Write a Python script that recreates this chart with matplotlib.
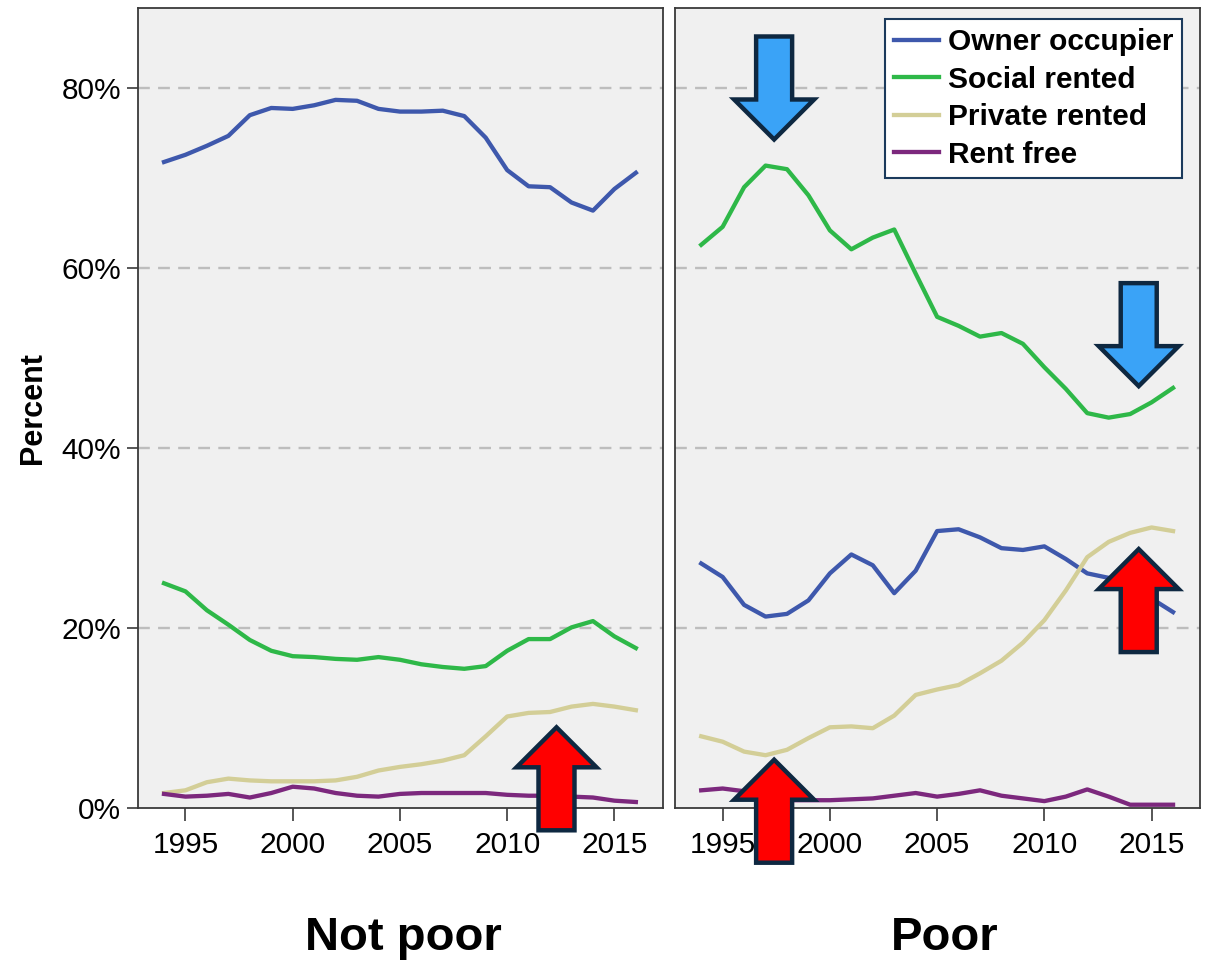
import numpy as np
import matplotlib
matplotlib.use("Agg")
import matplotlib.pyplot as plt
from matplotlib.patches import Polygon
from matplotlib.transforms import IdentityTransform

plt.rcParams['font.family'] = ['Liberation Sans', 'DejaVu Sans']

years = list(range(1994, 2017))
tenures = ['Owner occupier', 'Social rented', 'Private rented', 'Rent free']
colors = ['#3E58AC', '#2EB848', '#D3CE97', '#7C287D']
panels = ['Not poor', 'Poor']

# not poor
np_owner = [71.8, 72.6, 73.6, 74.7, 77.0, 77.8, 77.7, 78.1, 78.7, 78.6, 77.7, 77.4,
            77.4, 77.5, 76.9, 74.5, 70.9, 69.1, 69.0, 67.3, 66.4, 68.8, 70.6]
np_social = [25.0, 24.1, 22.0, 20.4, 18.7, 17.5, 16.9, 16.8, 16.6, 16.5, 16.8, 16.5,
             16.0, 15.7, 15.5, 15.8, 17.5, 18.8, 18.8, 20.1, 20.8, 19.1, 17.8]
np_private = [1.7, 2.0, 2.9, 3.3, 3.1, 3.0, 3.0, 3.0, 3.1, 3.5, 4.2, 4.6,
              4.9, 5.3, 5.9, 8.0, 10.2, 10.6, 10.7, 11.3, 11.6, 11.3, 10.9]
np_free = [1.6, 1.3, 1.4, 1.6, 1.2, 1.7, 2.4, 2.2, 1.7, 1.4, 1.3, 1.6,
           1.7, 1.7, 1.7, 1.7, 1.5, 1.4, 1.4, 1.3, 1.2, 0.85, 0.7]

# poor
p_owner = [27.2, 25.7, 22.6, 21.3, 21.6, 23.1, 26.1, 28.2, 27.0, 23.9, 26.4, 30.8,
           31.0, 30.1, 28.9, 28.7, 29.1, 27.7, 26.1, 25.6, 24.8, 23.3, 21.8]
p_social = [62.6, 64.6, 69.0, 71.4, 71.0, 68.1, 64.2, 62.1, 63.4, 64.3, 59.4, 54.6,
            53.6, 52.4, 52.8, 51.6, 49.0, 46.6, 43.9, 43.4, 43.8, 45.1, 46.7]
p_private = [8.0, 7.4, 6.3, 5.9, 6.5, 7.8, 9.0, 9.1, 8.9, 10.3, 12.6, 13.2,
             13.7, 15.0, 16.4, 18.4, 20.9, 24.2, 27.9, 29.6, 30.6, 31.2, 30.8]
p_free = [2.0, 2.2, 1.9, 1.1, 0.9, 0.9, 0.9, 1.0, 1.1, 1.4, 1.7, 1.3,
          1.6, 2.0, 1.4, 1.1, 0.8, 1.3, 2.1, 1.3, 0.4, 0.4, 0.4]

series = [[np_owner, np_social, np_private, np_free],
          [p_owner, p_social, p_private, p_free]]

# arrow annotations: (panel, year, percent at tip, direction)
arrows = [(0, 2012.3, 9.0, 'up'),
          (1, 1997.4, 74.3, 'down'),
          (1, 2014.4, 46.9, 'down'),
          (1, 1997.4, 5.4, 'up'),
          (1, 2014.4, 28.8, 'up')]

fig = plt.figure(figsize=(12.05, 9.6), dpi=100)
ax1 = fig.add_axes([0.1144, 0.158, 0.4357, 0.8336])
ax2 = fig.add_axes([0.5602, 0.158, 0.4357, 0.8336])
axes = [ax1, ax2]
title_x = [403.5 / 1205, 945 / 1205]

for i, ax in enumerate(axes):
    ax.set_facecolor('#F0F0F0')
    for j in range(4):
        ax.plot(years, series[i][j], color=colors[j], lw=3.1, label=tenures[j],
                solid_joinstyle='round', zorder=3)
    ax.set_xlim(1992.78, 2017.26)
    ax.set_ylim(0, 88.9)
    ax.set_xticks([1995, 2000, 2005, 2010, 2015])
    ax.set_yticks([0, 20, 40, 60, 80])
    for g in [20, 40, 60, 80]:
        ax.axhline(g, color='#BDBDBD', lw=1.7, ls=(0, (5, 3.5)), zorder=1)
    for s in ax.spines.values():
        s.set_color('#3a3a3a')
        s.set_linewidth(1.3)
    ax.tick_params(axis='both', direction='out', length=8, width=1.2,
                   color='#3a3a3a', labelsize=21.5, pad=4)
    ax.tick_params(axis='x', length=9, pad=7)
    fig.text(title_x[i], 1 - 950 / 960, panels[i],
             ha='center', va='baseline', fontsize=34, fontweight='bold')

ax1.set_yticklabels([f'{v}%' for v in [0, 20, 40, 60, 80]])
ax1.set_ylabel('Percent', fontsize=22, fontweight='bold', labelpad=10)
ax2.tick_params(axis='y', left=False, labelleft=False)

leg = ax2.legend(loc='upper right', bbox_to_anchor=(1182 / 1205, 1 - 19 / 960),
                 bbox_transform=fig.transFigure, frameon=True, fancybox=False,
                 prop={'size': 21.5, 'weight': 'bold'}, handlelength=1.5,
                 handletextpad=0.3, borderpad=0.3, labelspacing=0.32,
                 borderaxespad=0)
leg.get_frame().set_edgecolor('#1B3A5C')
leg.get_frame().set_linewidth(1.5)
leg.get_frame().set_alpha(1)


def draw_arrow(ax, x, y, direction, fill):
    # shape in pixels, anchored on the tip
    tx, ty = ax.transData.transform((x, y))
    L, hl, hw, sw = 103, 40, 80, 36
    sgn = -1 if direction == 'up' else 1
    pts = [(0, 0), (hw / 2, hl), (sw / 2, hl), (sw / 2, L),
           (-sw / 2, L), (-sw / 2, hl), (-hw / 2, hl)]
    verts = [(tx + px, ty + sgn * py) for px, py in pts]
    fig.add_artist(Polygon(verts, closed=True, facecolor=fill, edgecolor='#0E2841',
                           lw=3.2, joinstyle='miter', transform=IdentityTransform(),
                           zorder=10))


for panel, x, y, d in arrows:
    draw_arrow(axes[panel], x, y, d, '#FF0000' if d == 'up' else '#3AA3F7')

fig.savefig('out.png', dpi=100)
